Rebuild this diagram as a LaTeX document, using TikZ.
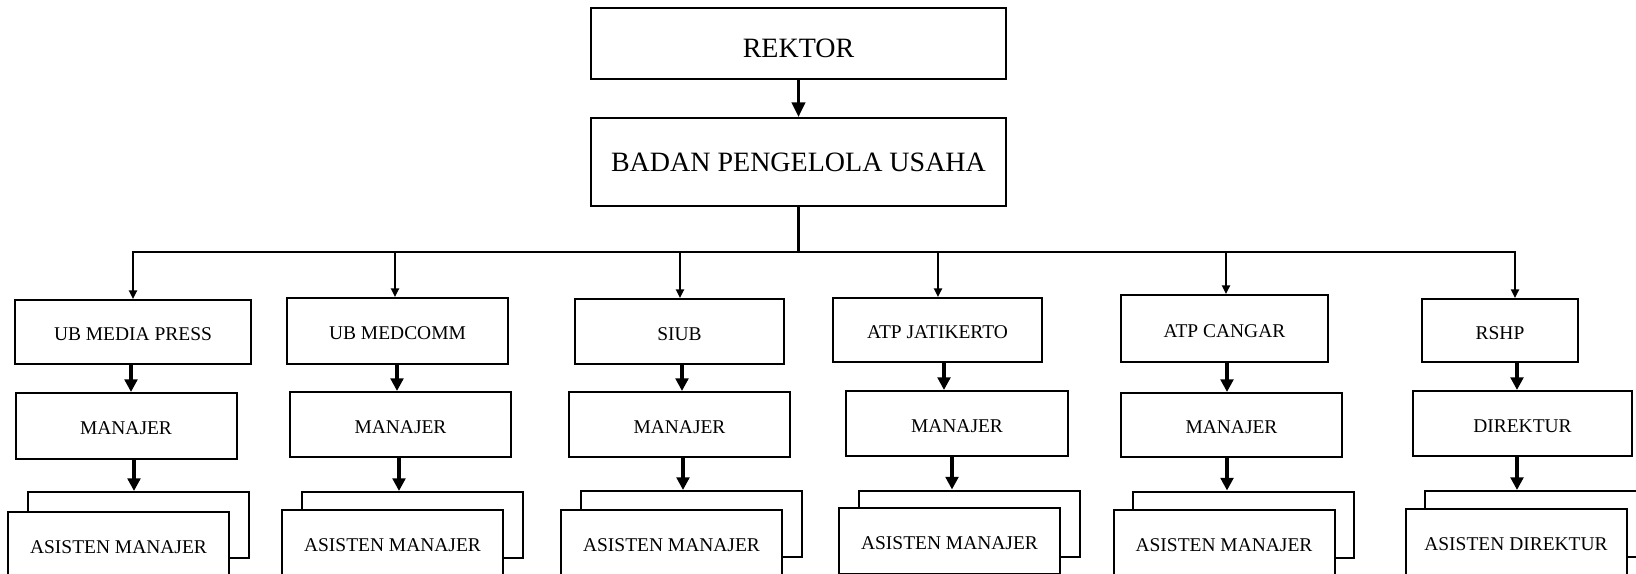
\documentclass[tikz,border=0pt]{standalone}
\usepackage{fontspec}
\setmainfont{Liberation Serif}
\usepackage{tikz}
\usetikzlibrary{arrows.meta}

\tikzset{
  unitbox/.style={draw, line width=1.5pt, inner sep=2pt, text height=13.5pt, font=\fontsize{14.6}{17}\selectfont},
  headbox/.style={draw, line width=1.5pt, minimum width=311.25pt, font=\fontsize{21}{25}\selectfont},
  staffbox/.style={unitbox, minimum width=165.75pt, minimum height=48.75pt},
  asstbox/.style={unitbox, fill=white, minimum width=165.75pt, minimum height=49.5pt},
  busline/.style={line width=2pt, line cap=rect},
  droparrow/.style={line width=1.7pt, -{Triangle[length=6.5pt,width=6pt]}},
  stemarrow/.style={line width=3pt, -{Triangle[length=9.5pt,width=9.5pt]}},
}

\begin{document}
\begin{tikzpicture}[x=0.75pt,y=0.75pt,yscale=-1,xscale=1]
\useasboundingbox (0,0) rectangle (1636,574);

% pimpinan
\node[headbox, minimum height=53.25pt, text height=20.5pt] (rektor) at (798.5,43.5) {REKTOR};
\node[headbox, minimum height=66pt] (bpu) at (798.5,162) {BADAN PENGELOLA USAHA};
\draw[line width=2.25pt, -{Triangle[length=11pt,width=10pt]}] (rektor) -- (bpu);

% unit usaha
\node[unitbox, minimum width=177pt, minimum height=48pt] (u1) at (133,332) {UB MEDIA PRESS};
\node[unitbox, minimum width=165.75pt, minimum height=49.5pt] (u2) at (397.5,331) {UB MEDCOMM};
\node[unitbox, minimum width=156.75pt, minimum height=48.75pt] (u3) at (679.5,331.5) {SIUB};
\node[unitbox, minimum width=156.75pt, minimum height=48pt] (u4) at (937.5,330) {ATP JATIKERTO};
\node[unitbox, minimum width=155.25pt, minimum height=50.25pt] (u5) at (1224.5,328.5) {ATP CANGAR};
\node[unitbox, minimum width=117pt, minimum height=47.25pt] (u6) at (1500,330.5) {RSHP};

% garis bagi
\coordinate (d1) at (133,252);
\coordinate (d2) at (395,252);
\coordinate (d3) at (680,252);
\coordinate (d4) at (938,252);
\coordinate (d5) at (1226,252);
\coordinate (d6) at (1515,252);
\draw[busline] (bpu.south) -- (bpu.south |- d1);
\draw[busline] (d1) -- (d6);
\draw[droparrow] (d1) -- (d1 |- u1.north);
\draw[droparrow] (d2) -- (d2 |- u2.north);
\draw[droparrow] (d3) -- (d3 |- u3.north);
\draw[droparrow] (d4) -- (d4 |- u4.north);
\draw[droparrow] (d5) -- (d5 |- u5.north);
\draw[droparrow] (d6) -- (d6 |- u6.north);

% manajer
\node[staffbox, minimum height=49.5pt] (m1) at (126,426) {MANAJER};
\node[staffbox] (m2) at (400.5,424.5) {MANAJER};
\node[staffbox] (m3) at (679.5,424.5) {MANAJER};
\node[staffbox, minimum width=166.5pt] (m4) at (957,423.5) {MANAJER};
\node[staffbox, minimum height=48pt] (m5) at (1231.5,425) {MANAJER};
\node[staffbox, minimum width=164.25pt] (m6) at (1522.5,423.5) {DIREKTUR};

\draw[stemarrow] (131,0 |- u1.south) -- (131,0 |- m1.north);
\draw[stemarrow] (397,0 |- u2.south) -- (397,0 |- m2.north);
\draw[stemarrow] (682,0 |- u3.south) -- (682,0 |- m3.north);
\draw[stemarrow] (944,0 |- u4.south) -- (944,0 |- m4.north);
\draw[stemarrow] (1227,0 |- u5.south) -- (1227,0 |- m5.north);
\draw[stemarrow] (1517,0 |- u6.south) -- (1517,0 |- m6.north);

% asisten (tumpuk)
\node[asstbox] (k1) at (138.5,525) {};
\node[asstbox] (k2) at (412.5,525) {};
\node[asstbox] (k3) at (691.5,524) {};
\node[asstbox] (k4) at (969.5,523.5) {};
\node[asstbox] (k5) at (1243.5,524.5) {};
\node[asstbox] (k6) at (1535.5,524) {};
\node[asstbox] (a1) at (118.5,545) {ASISTEN MANAJER};
\node[asstbox] (a2) at (392.5,543) {ASISTEN MANAJER};
\node[asstbox] (a3) at (671.5,543) {ASISTEN MANAJER};
\node[asstbox] (a4) at (949.5,541) {ASISTEN MANAJER};
\node[asstbox] (a5) at (1224,543) {ASISTEN MANAJER};
\node[asstbox] (a6) at (1516,542) {ASISTEN DIREKTUR};

\draw[stemarrow] (134,0 |- m1.south) -- (134,0 |- k1.north);
\draw[stemarrow] (399,0 |- m2.south) -- (399,0 |- k2.north);
\draw[stemarrow] (683,0 |- m3.south) -- (683,0 |- k3.north);
\draw[stemarrow] (952,0 |- m4.south) -- (952,0 |- k4.north);
\draw[stemarrow] (1227,0 |- m5.south) -- (1227,0 |- k5.north);
\draw[stemarrow] (1517,0 |- m6.south) -- (1517,0 |- k6.north);

\end{tikzpicture}
\end{document}
